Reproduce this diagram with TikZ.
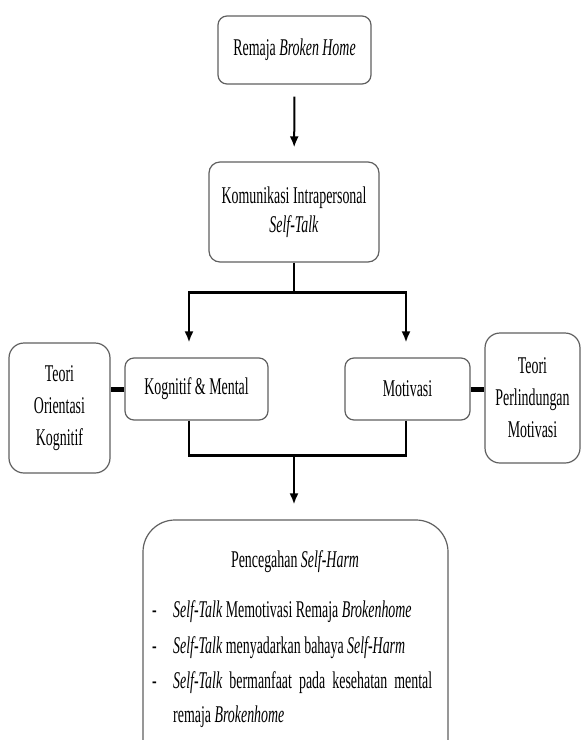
\documentclass[tikz,border=0pt]{standalone}
\usepackage{fontspec}
\setmainfont{Liberation Serif}[FakeStretch=0.58]
\usetikzlibrary{arrows.meta}
\begin{document}
\begin{tikzpicture}[x=1pt,y=-1pt,
  font=\fontsize{24}{30}\selectfont,
  box/.style={draw=gray!75!black, line width=1.2pt, align=center, inner sep=0pt, fill=white},
  conn/.style={line width=2pt, black},
  bar/.style={line width=3pt, black},
  link/.style={line width=5pt, black},
  arr/.style={conn, -{Latex[length=11pt,width=9pt]}}]
\useasboundingbox (0,0) rectangle (582,740);
\clip (0,0) rectangle (582,740);
% boxes
\node[box, rounded corners=9pt, minimum width=153pt, minimum height=68pt] (top) at (294.5,50) {Remaja \textit{Broken Home}};
\node[box, rounded corners=11pt, minimum width=170pt, minimum height=100pt] (kom) at (294,212) {Komunikasi Intrapersonal\\[-1pt]\textit{Self-Talk}};
\node[box, rounded corners=9pt, minimum width=143pt, minimum height=62pt] (kog) at (196.5,389) {Kognitif \& Mental};
\node[box, rounded corners=9pt, minimum width=125pt, minimum height=62pt] (mot) at (407.5,389) {Motivasi};
\node[box, rounded corners=15pt, minimum width=101pt, minimum height=130pt] (tok) at (59.5,408) {Teori\\[2pt]Orientasi\\[2pt]Kognitif};
\node[box, rounded corners=15pt, minimum width=95pt, minimum height=130pt] (tpm) at (532.5,398) {Teori\\[2pt]Perlindungan\\[2pt]Motivasi};
\node[box, rounded corners=32pt, minimum width=305pt, minimum height=260pt] (prev) at (295.5,650) {};
% texts of bottom box
\node[anchor=base, inner sep=0pt] (title) at (295,567) {Pencegahan \textit{Self-Harm}};
\node[anchor=base west, inner sep=0pt] (d1) at (152,617) {-};
\node[anchor=base west, inner sep=0pt] (d2) at (152,653) {-};
\node[anchor=base west, inner sep=0pt] (d3) at (152,688) {-};
\node[anchor=base west, inner sep=0pt] (l1) at (173,617) {\textit{Self-Talk} Memotivasi Remaja \textit{Brokenhome}};
\node[anchor=base west, inner sep=0pt] (l2) at (173,653) {\textit{Self-Talk} menyadarkan bahaya \textit{Self-Harm}};
\node[anchor=base west, inner sep=0pt] (l3) at (173,688) {\hbox to 259pt{\textit{Self-Talk}\hfill bermanfaat\hfill pada\hfill kesehatan\hfill mental}};
\node[anchor=base west, inner sep=0pt] (l4) at (173,722) {remaja \textit{Brokenhome}};
% junction coordinates
\coordinate (jt) at (294,292);
\coordinate (btl) at (189,292);
\coordinate (btr) at (406,292);
\coordinate (bbl) at (189,455);
\coordinate (bbr) at (406,455);
\coordinate (jb) at (294,455);
% connectors
\draw[arr, shorten <=12pt, shorten >=14pt] (top) -- (kom);
\draw[conn] (kom.south) -- (jt);
\draw[bar] ([xshift=-1pt]btl) -- ([xshift=1pt]btr);
\draw[arr, shorten >=15pt] (btl) -- (btl |- kog.north);
\draw[arr, shorten >=15pt] (btr) -- (btr |- mot.north);
\draw[conn] (bbl |- kog.south) -- (bbl);
\draw[conn] (bbr |- mot.south) -- (bbr);
\draw[bar] ([xshift=-1pt]bbl) -- ([xshift=1pt]bbr);
\draw[arr, shorten >=15pt] (jb) -- (jb |- prev.north);
\draw[link] (kog.west) -- (kog.west -| tok.east);
\draw[link] (mot.east) -- (mot.east -| tpm.west);
\end{tikzpicture}
\end{document}
